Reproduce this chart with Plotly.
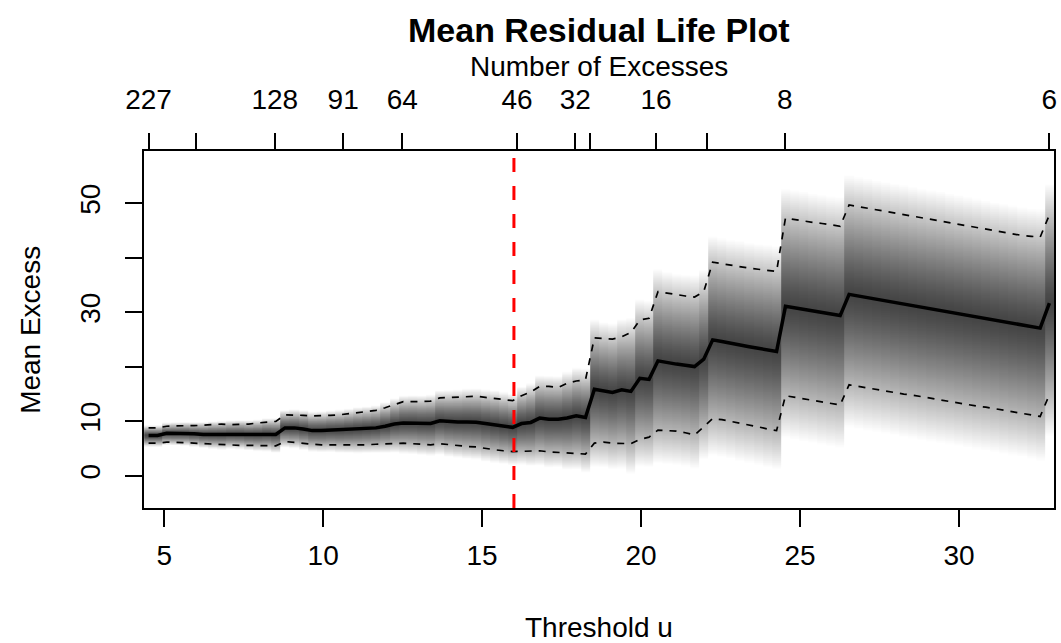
import numpy as np
import plotly.graph_objects as go

# ---------------- data ----------------
threshold = [4.51, 4.79, 5.08, 5.37, 5.65, 5.94, 6.23, 6.51, 6.80, 7.08,
             7.37, 7.66, 7.94, 8.23, 8.51, 8.80, 9.09, 9.37, 9.66, 9.95,
             10.23, 10.52, 10.80, 11.09, 11.38, 11.66, 11.95, 12.24, 12.52, 12.81,
             13.09, 13.38, 13.67, 13.95, 14.24, 14.52, 14.81, 15.10, 15.38, 15.67,
             15.96, 16.24, 16.53, 16.81, 17.10, 17.39, 17.67, 17.96, 18.25, 18.53,
             18.82, 19.10, 19.39, 19.68, 19.96, 20.25, 20.53, 20.82, 21.11, 21.39,
             21.68, 21.97, 22.25, 22.54, 22.82, 23.11, 23.40, 23.68, 23.97, 24.26,
             24.54, 24.83, 25.11, 25.40, 25.69, 25.97, 26.26, 26.54, 26.83, 27.12,
             27.40, 27.69, 27.98, 28.26, 28.55, 28.83, 29.12, 29.41, 29.69, 29.98,
             30.27, 30.55, 30.84, 31.12, 31.41, 31.70, 31.98, 32.27, 32.55, 32.84]

mean_excess = [7.4, 7.4, 7.8, 7.8, 7.8, 7.7, 7.6, 7.6, 7.6, 7.7, 7.7, 7.6, 7.6, 7.7, 7.6,
               8.8, 8.8, 8.6, 8.3, 8.3, 8.4, 8.4, 8.5, 8.6, 8.7, 8.8,
               9.1, 9.5, 9.7, 9.7, 9.6, 9.6, 10.1, 9.95, 9.9, 9.9, 9.85, 9.6, 9.4, 9.15, 8.9,
               9.6, 9.8, 10.6, 10.4, 10.4, 10.6, 11.0, 10.7,
               15.9, 15.6, 15.3, 15.8, 15.5, 17.9, 17.7,
               21.1, 20.75, 20.5, 20.3, 20.05, 21.4,
               24.95, 24.65, 24.3, 24.0, 23.7, 23.4, 23.1, 22.8,
               31.1, 30.8, 30.5, 30.2, 29.9, 29.6, 29.4,
               33.3, 33.0, 32.7, 32.4, 32.1, 31.8, 31.5, 31.2, 30.9, 30.6, 30.35,
               30.05, 29.75, 29.45, 29.15, 28.85, 28.55, 28.25, 27.95, 27.65, 27.35, 27.1,
               31.7]

upper_ci = [8.8, 8.8, 9.1, 9.2, 9.2, 9.2, 9.3, 9.4, 9.5, 9.4, 9.4, 9.5, 9.7, 9.9, 10.0,
            11.2, 11.2, 11.1, 11.0, 11.0, 11.1, 11.2, 11.4, 11.6, 11.8, 12.0,
            12.5, 13.1, 13.6, 13.6, 13.6, 13.7, 14.3, 14.4, 14.5, 14.6, 14.6, 14.4, 14.25, 14.0, 13.8,
            14.7, 15.4, 16.4, 16.4, 16.2, 17.0, 17.4, 17.6,
            25.3, 25.2, 25.1, 25.5, 26.3, 28.6, 28.9,
            33.8, 33.5, 33.2, 33.0, 32.8, 33.8,
            39.2, 38.9, 38.6, 38.4, 38.1, 37.9, 37.7, 37.5,
            47.3, 47.0, 46.8, 46.5, 46.3, 46.0, 45.8,
            49.7, 49.4, 49.1, 48.8, 48.5, 48.2, 48.0, 47.7, 47.4, 47.1, 46.8,
            46.5, 46.2, 45.9, 45.6, 45.3, 45.0, 44.7, 44.4, 44.1, 43.95, 43.8,
            47.9]

lower_ci = [6.0, 6.0, 6.2, 6.2, 6.1, 6.0, 5.9, 5.8, 5.8, 5.7, 5.6, 5.6, 5.6, 5.6, 5.5,
            6.3, 6.1, 5.9, 5.8, 5.7, 5.7, 5.6, 5.6, 5.6, 5.7, 5.8,
            5.9, 6.0, 6.0, 5.9, 5.8, 5.7, 5.9, 5.7, 5.6, 5.4, 5.3, 5.0, 4.8, 4.6, 4.45,
            4.5, 4.6, 4.6, 4.4, 4.3, 4.2, 4.1, 4.0,
            6.0, 6.2, 6.0, 5.9, 5.9, 6.7, 7.1,
            8.4, 8.35, 8.2, 7.9, 7.5, 9.0,
            10.5, 10.3, 10.0, 9.6, 9.3, 9.0, 8.6, 8.3,
            14.7, 14.4, 14.1, 13.9, 13.6, 13.3, 13.0,
            16.7, 16.4, 16.1, 15.9, 15.6, 15.3, 15.0, 14.8, 14.5, 14.2, 13.9,
            13.7, 13.4, 13.1, 12.8, 12.6, 12.3, 12.0, 11.7, 11.5, 11.2, 10.9,
            14.9]

top_tick_u = [4.51, 6.00, 8.48, 10.63, 12.49, 16.10, 17.93, 18.40, 20.47, 22.06, 24.52, 32.84]
top_tick_labels = ["227", "", "128", "91", "64", "46", "32", "", "16", "", "8", "6"]
x_ticks = [5, 10, 15, 20, 25, 30]
y_ticks = [0, 10, 20, 30, 40, 50]
y_tick_labels = ["0", "10", "", "30", "", "50"]
chosen_threshold = 16.0

# ---------------- figure ----------------
FONT = "Liberation Sans, Arial, Helvetica, sans-serif"
X_RANGE = [4.366, 32.985]
Y_RANGE = [-5.9, 59.6]

# graded confidence shading, one column per threshold
m = np.array(mean_excess)
up = np.array(upper_ci)
lo = np.array(lower_ci)
sd = (up - lo) / (2 * 1.96)
ygrid = np.linspace(Y_RANGE[0], Y_RANGE[1], 520)
dev = (ygrid[:, None] - m[None, :]) / sd[None, :]
zc = np.where(dev > 0, 2.6, 2.9)          # fade-out extent above / below the mean
frac = np.clip(np.abs(dev) / zc, 0, 1)
shade = (68 + 187 * frac ** 1.25) / 255.0
shade = np.where(frac < 1, shade, np.nan)

fig = go.Figure()
fig.add_trace(go.Heatmap(
    x=threshold, y=ygrid, z=shade, zmin=0, zmax=1,
    colorscale=[[0, "rgb(0,0,0)"], [1, "rgb(255,255,255)"]],
    showscale=False, hoverinfo="skip", zsmooth=False))

dash_ci = dict(color="black", width=1.7, dash="7px,7px")
fig.add_trace(go.Scatter(x=threshold, y=upper_ci, mode="lines", line=dash_ci,
                         showlegend=False, hoverinfo="skip"))
fig.add_trace(go.Scatter(x=threshold, y=lower_ci, mode="lines", line=dash_ci,
                         showlegend=False, hoverinfo="skip"))
fig.add_trace(go.Scatter(x=threshold, y=mean_excess, mode="lines",
                         line=dict(color="black", width=3.5),
                         showlegend=False, hoverinfo="skip"))
# anchor trace for the top axis (no visible marks)
fig.add_trace(go.Scatter(x=top_tick_u, y=[None] * len(top_tick_u), xaxis="x2",
                         mode="lines", showlegend=False, hoverinfo="skip"))

fig.add_shape(type="line", xref="x", yref="paper", x0=chosen_threshold, x1=chosen_threshold,
              y0=0, y1=1, line=dict(color="#FF0000", width=3, dash="14px,14px"), layer="above")

axis_common = dict(showgrid=False, zeroline=False, ticks="outside", ticklen=17,
                   tickwidth=2, tickcolor="black",
                   tickfont=dict(family=FONT, size=28, color="black"))

fig.update_layout(
    width=1061, height=643, autosize=False,
    margin=dict(l=144, r=4, t=151, b=135, pad=0),
    paper_bgcolor="white", plot_bgcolor="white",
    font=dict(family=FONT, color="black"),
    xaxis=dict(range=X_RANGE, tickvals=x_ticks, ticktext=[str(v) for v in x_ticks],
               showline=True, linewidth=2, linecolor="black", mirror=True,
               ticklabelstandoff=4, **axis_common),
    xaxis2=dict(range=X_RANGE, overlaying="x", side="top", anchor="y",
                tickvals=top_tick_u, ticktext=top_tick_labels,
                showline=False, ticklabelstandoff=13, **axis_common),
    yaxis=dict(range=Y_RANGE, tickvals=y_ticks, ticktext=y_tick_labels, tickangle=-90,
               showline=True, linewidth=2, linecolor="black", mirror=True,
               ticklabelstandoff=14, **axis_common),
    showlegend=False,
)

PH = 357.0
PW = 913.0
def py(ypx):
    return (508 - ypx) / PH

fig.add_annotation(text="<b>Mean Residual Life Plot</b>", xref="paper", yref="paper",
                   x=0.5, y=py(30), showarrow=False, xanchor="center", yanchor="middle",
                   font=dict(family=FONT, size=34, color="black"))
fig.add_annotation(text="Number of Excesses", xref="paper", yref="paper",
                   x=0.5, y=py(67), showarrow=False, xanchor="center", yanchor="middle",
                   font=dict(family=FONT, size=28, color="black"))
fig.add_annotation(text="Threshold u", xref="paper", yref="paper",
                   x=0.5, y=py(627), showarrow=False, xanchor="center", yanchor="middle",
                   font=dict(family=FONT, size=28, color="black"))
fig.add_annotation(text="Mean Excess", xref="paper", yref="paper",
                   x=(30 - 144) / PW, y=0.5, showarrow=False, textangle=-90,
                   xanchor="center", yanchor="middle",
                   font=dict(family=FONT, size=28, color="black"))

fig.write_html("out.html")
